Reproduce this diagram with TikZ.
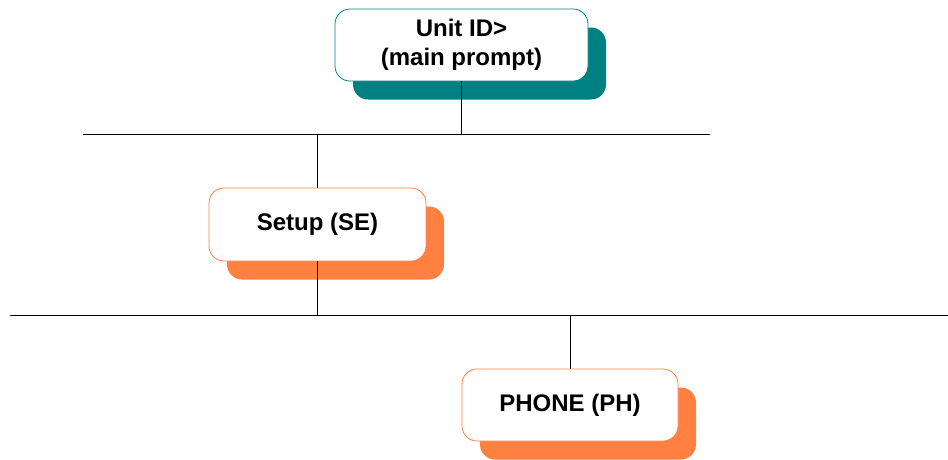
\documentclass[tikz,border=0pt]{standalone}
\usepackage{fontspec}
\setmainfont{Liberation Sans}
\usetikzlibrary{shadows}
\definecolor{menuteal}{RGB}{0,128,128}
\definecolor{menuorange}{RGB}{255,128,64}
\begin{document}
\begin{tikzpicture}[x=1pt, y=-1pt,
    menu/.style={draw=#1, fill=white, line width=0.8pt, rounded corners=15pt,
      inner sep=0pt, align=center, font=\fontsize{24}{29}\selectfont\bfseries,
      general shadow={fill=#1, draw=none, shadow xshift=18pt, shadow yshift=-18.5pt}},
    bus/.style={line width=1pt}]
        \useasboundingbox (0, 0) rectangle (948, 459);

        \node (unit) at (461.5, 45) [menu=menuteal, minimum width=253pt, minimum height=72pt] {Unit ID>\\(main prompt)};
        \node (se) at (317.5, 224.5) [menu=menuorange, minimum width=217pt, minimum height=73pt] {Setup (SE)};
        \node (ph) at (570, 405) [menu=menuorange, minimum width=216pt, minimum height=72pt] {PHONE (PH)};

        \coordinate (busa-l) at (83, 134);
        \coordinate (busa-r) at (710, 134);
        \coordinate (busb-l) at (10, 315);
        \coordinate (busb-r) at (948, 315);

        \draw[bus] (busa-l)--(busa-r);
        \draw[bus] (busb-l)--(busb-r);
        \draw[bus] (unit.south)--(unit.south |- busa-l);
        \draw[bus] (se.north)--(se.north |- busa-l);
        \draw[bus] (se.south)--(se.south |- busb-l);
        \draw[bus] (ph.north)--(ph.north |- busb-l);
      \end{tikzpicture}
\end{document}
